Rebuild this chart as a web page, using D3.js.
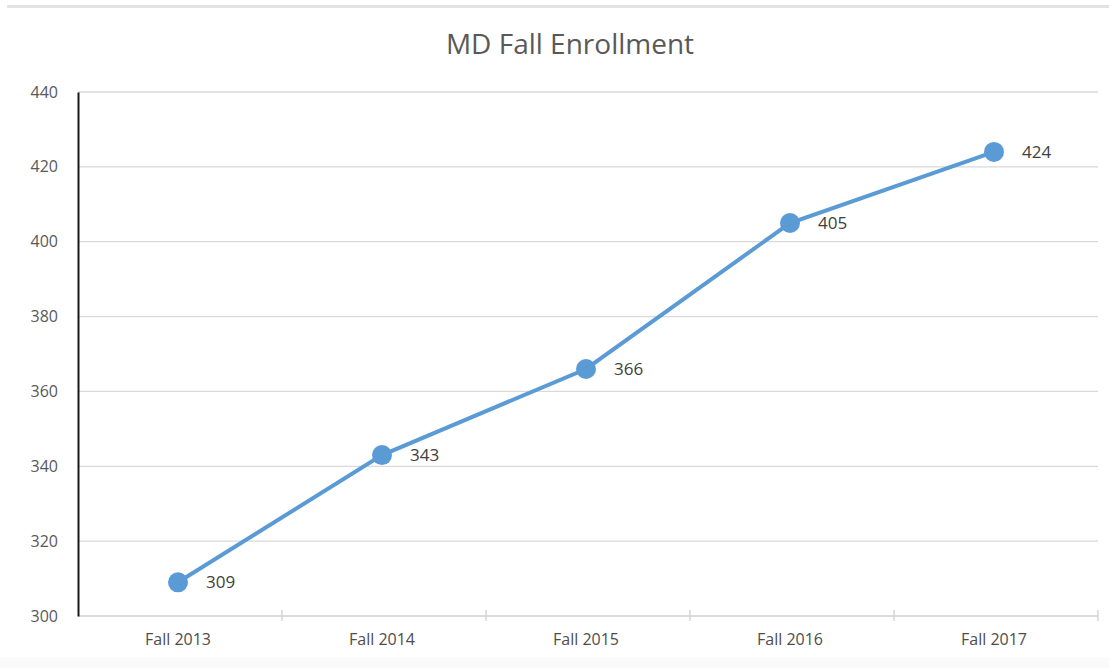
<!DOCTYPE html>
<html><head><meta charset="utf-8">
<script src="https://cdn.jsdelivr.net/npm/d3@7"></script>
<style>body{margin:0;background:#fff;} svg{display:block;}</style>
</head><body>
<script>
const categories = ["Fall 2013","Fall 2014","Fall 2015","Fall 2016","Fall 2017"];
const enrollment = [309,343,366,405,424];
const yTicks = [300,320,340,360,380,400,420,440];
const title = "MD Fall Enrollment";

const W = 1109, H = 668;
const svg = d3.select("body").append("svg").attr("width",W).attr("height",H);
const font = "'Open Sans', 'Liberation Sans', Arial, sans-serif";

// top border line
svg.append("rect").attr("x",7).attr("y",5).attr("width",W-7).attr("height",3).attr("fill","#e3e3e3");
// faint bottom band
svg.append("rect").attr("x",0).attr("y",657).attr("width",W).attr("height",11).attr("fill","#fafafa");

const x = d3.scaleBand().domain(categories).range([76,1096]);
const y = d3.scaleLinear().domain([300,440]).range([616,92]);
const axisX = 78;

// gridlines
svg.append("g").selectAll("line").data(yTicks.slice(1)).join("line")
  .attr("x1",axisX).attr("x2",1098).attr("y1",d=>y(d)).attr("y2",d=>y(d))
  .attr("stroke","#d9d9d9").attr("stroke-width",1.3);

// x axis
const xAxis = svg.append("g").attr("transform",`translate(0,${y(300)})`)
  .call(d3.axisBottom(x).tickSize(0).tickPadding(18));
xAxis.select(".domain").attr("d",`M${axisX},0H1098`).attr("stroke","#d0d0d0").attr("stroke-width",1.3);
xAxis.selectAll("text").attr("font-family",font).attr("font-size",16).attr("fill","#4d4d4d");
// boundary ticks
const bounds = categories.map(c=>x(c)).concat([x(categories[categories.length-1])+x.bandwidth()]);
svg.append("g").selectAll("line").data(bounds.slice(1)).join("line")
  .attr("x1",d=>d+2).attr("x2",d=>d+2).attr("y1",y(300)-6).attr("y2",y(300)+5)
  .attr("stroke","#d0d0d0").attr("stroke-width",1.3);

// y axis
const yAxis = svg.append("g").attr("transform",`translate(${axisX},0)`)
  .call(d3.axisLeft(y).tickValues(yTicks).tickSize(0).tickPadding(20));
yAxis.select(".domain").attr("stroke","#1a1a1a").attr("stroke-width",2);
yAxis.selectAll("text").attr("font-family",font).attr("font-size",16).attr("fill","#595959");

// title
svg.append("text").attr("x",570).attr("y",54).attr("text-anchor","middle")
  .attr("font-family",font).attr("font-size",28).attr("fill","#595959").text(title);

const data = categories.map((c,i)=>({c, v:enrollment[i]}));
const cx = d => x(d.c)+x.bandwidth()/2;

svg.append("path").datum(data)
  .attr("d", d3.line().x(cx).y(d=>y(d.v)))
  .attr("fill","none").attr("stroke","#5b9bd5").attr("stroke-width",4).attr("stroke-linecap","round");

svg.append("g").selectAll("circle").data(data).join("circle")
  .attr("cx",cx).attr("cy",d=>y(d.v)).attr("r",10).attr("fill","#5b9bd5");

svg.append("g").selectAll("text").data(data).join("text")
  .attr("x",d=>cx(d)+28).attr("y",d=>y(d.v)).attr("dy","0.35em")
  .attr("font-family",font).attr("font-size",17).attr("fill","#404040")
  .text(d=>d.v);
</script>
</body></html>
